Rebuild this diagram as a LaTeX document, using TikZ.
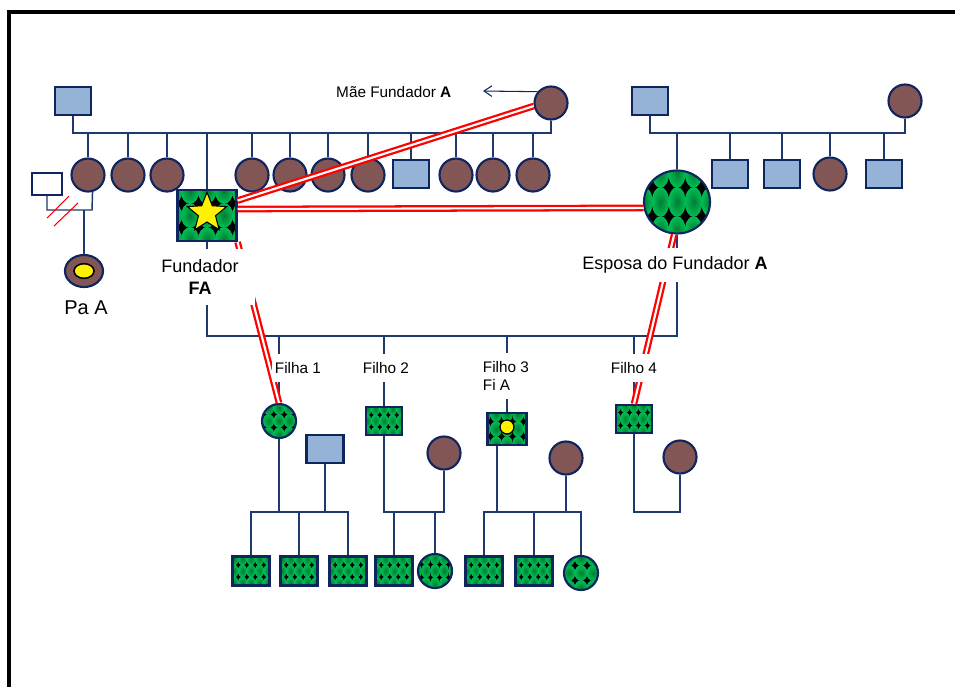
\documentclass[tikz,border=0pt]{standalone}
\usepackage{fontspec}
\setmainfont{Liberation Sans}
\usepackage{tikz}
\usetikzlibrary{arrows.meta,calc,shapes.geometric}

\definecolor{navyc}{RGB}{16,37,94}
\definecolor{linec}{RGB}{31,56,110}
\definecolor{brownc}{RGB}{131,86,86}
\definecolor{bluec}{RGB}{149,179,215}
\definecolor{pinkc}{RGB}{222,150,150}
\definecolor{gdark}{RGB}{0,125,50}
\definecolor{glight}{RGB}{0,190,85}

\tikzset{
  male/.style={draw=navyc, fill=bluec, line width=1.6pt, minimum width=27pt, minimum height=21pt, inner sep=0pt},
  female/.style={circle, draw=navyc, fill=brownc, line width=1.6pt, minimum size=24.75pt, inner sep=0pt},
  greenpat/.style 2 args={draw=navyc, line width=1.6pt, inner sep=0pt,
    path picture={
      \fill[black] (path picture bounding box.south west) rectangle (path picture bounding box.north east);
      \begin{scope}[shift={(path picture bounding box.center)}]
        \foreach \i in {-4,...,4}
          \foreach \j in {-3,...,3}
            \shade[inner color=gdark, outer color=glight] (\i*#1,\j*#2) ellipse [x radius=#1/2+0.4, y radius=#2/2+0.4];
      \end{scope}}},
  link/.style={draw=linec, line width=1.1pt},
  consang/.style={draw=red, double=white, line width=1.7pt, double distance=1.6pt},
  lbl/.style={fill=white, inner xsep=2pt, inner ysep=6pt, align=left, font=\fontsize{11.5}{13.8}\selectfont},
  biglbl/.style={fill=white, align=center, font=\fontsize{13.5}{16}\selectfont}
}

\begin{document}
\begin{tikzpicture}[x=0.75pt,y=0.75pt,yscale=-1,xscale=1]
  \useasboundingbox (0,0) rectangle (955,686);
  % frame
  \draw[line width=3pt] (8.5,700) -- (8.5,12) -- (970,12);

  % founder's parents and sibship
  \node[male] (fatherFA) at (73,101) {};
  \node[female] (mothFA) at (551,103) {};
  \node[female] (sa1) at (88,175) {};
  \node[female] (sa2) at (128,175) {};
  \node[female] (sa3) at (167,175) {};
  \node[female] (sa4) at (252,175) {};
  \node[female] (sa5) at (290,175) {};
  \node[female, left color=brownc, middle color=pinkc, right color=brownc] (sa6) at (328,175) {};
  \node[female] (sa7) at (368,175) {};
  \node[male] (sa8) at (411,174) {};
  \node[female] (sa9) at (456,175) {};
  \node[female] (sa10) at (493,175) {};
  \node[female] (sa11) at (533,175) {};
  \node[greenpat={17}{24}, minimum width=44.25pt, minimum height=38.25pt] (founder) at (207,215.5) {};
  \node[star, star points=5, star point ratio=2.3, fill=yellow, draw=black, line width=0.8pt, minimum size=31pt, inner sep=0pt] (fstar) at (207,213) {};

  % ex partner of sa1 and child Pa A
  \node[draw=navyc, fill=white, line width=1.6pt, minimum width=22.5pt, minimum height=16.5pt] (exPA) at (47,184) {};
  \node[ellipse, draw=navyc, fill=brownc, line width=1.6pt, minimum width=28.5pt, minimum height=24pt, inner sep=0pt] (paA) at (84,271) {};
  \node[ellipse, draw=black, fill=yellow, line width=1.2pt, minimum width=15pt, minimum height=11pt, inner sep=0pt] (paAdot) at (84,271) {};
  \coordinate (paJ) at (92,210);
  \draw[link] (exPA.south) |- (paJ) -- (sa1.285);
  \draw[link] (paA.north |- paJ) -- (paA.north);
  \draw[red, line width=0.8pt] (47,218) -- (69,196);
  \draw[red, line width=0.8pt] (54,226) -- (78,203);

  % spouse's parents and sibship
  \node[male] (fatherEsp) at (650,101) {};
  \node[female] (mothEsp) at (905,101) {};
  \node[ellipse, greenpat={16.5}{29}, minimum width=49.5pt, minimum height=47.25pt] (spouse) at (677,202) {};
  \node[male] (sb1) at (730,174) {};
  \node[male] (sb2) at (782,174) {};
  \node[female] (sb3) at (830,174) {};
  \node[male] (sb4) at (884,174) {};

  % sibship lines
  \coordinate (sibA) at (300,133);
  \coordinate (sibB) at (780,133);
  \draw[link] (fatherFA.south) |- (sibA) -| (mothFA.south);
  \foreach \n in {sa1,sa2,sa3,sa4,sa5,sa6,sa7,sa8,sa9,sa10,sa11,founder}
    \draw[link] (\n.north) -- (\n.north |- sibA);
  \draw[link] (fatherEsp.south) |- (sibB) -| (mothEsp.south);
  \foreach \n in {spouse,sb1,sb2,sb3,sb4}
    \draw[link] (\n.north) -- (\n.north |- sibB);

  % children of the founder
  \node[circle, greenpat={10.5}{13}, minimum size=25.5pt] (filha1) at (279,421) {};
  \node[greenpat={8.5}{12}, minimum width=27pt, minimum height=21pt] (filho2) at (384,421) {};
  \node[greenpat={11}{15}, minimum width=29.25pt, minimum height=24pt] (filho3) at (507,429) {};
  \node[circle, draw=black, fill=yellow, line width=1pt, minimum size=10.5pt, inner sep=0pt] (f3dot) at (507,427) {};
  \node[greenpat={9}{13}, minimum width=27pt, minimum height=21pt] (filho4) at (634,419) {};
  \coordinate (kidsL) at (450,336);
  \draw[link] (founder.south) |- (kidsL) -| (spouse.south);
  \foreach \n in {filha1,filho2,filho3,filho4}
    \draw[link] (\n.north) -- (\n.north |- kidsL);

  % partners
  \node[male, minimum width=27.75pt] (hF1) at (325,449) {};
  \node[female] (wF2) at (444,453) {};
  \node[female] (wF3) at (566,458) {};
  \node[female] (wF4) at (680,457) {};

  % grandchildren
  \node[greenpat={8.5}{12}, minimum width=27.75pt, minimum height=21.75pt] (gc1) at (251,571) {};
  \node[greenpat={8.5}{12}, minimum width=27.75pt, minimum height=21.75pt] (gc2) at (299,571) {};
  \node[greenpat={8.5}{12}, minimum width=27.75pt, minimum height=21.75pt] (gc3) at (348,571) {};
  \node[greenpat={8.5}{12}, minimum width=27.75pt, minimum height=21.75pt] (gc4) at (394,571) {};
  \node[circle, greenpat={9}{13}, minimum size=25.5pt] (gc5) at (435,571) {};
  \node[greenpat={8.5}{12}, minimum width=27.75pt, minimum height=21.75pt] (gc6) at (484,571) {};
  \node[greenpat={8.5}{12}, minimum width=27.75pt, minimum height=21.75pt] (gc7) at (534,571) {};
  \node[circle, greenpat={12}{15}, minimum size=25.5pt] (gc8) at (581,573) {};

  \coordinate (gJ1) at (300,512);
  \coordinate (gJ2) at (415,512);
  \coordinate (gJ3) at (535,512);
  \coordinate (gJ4) at (660,512);
  \draw[link] (filha1.south) -- (filha1.south |- gJ1);
  \draw[link] (hF1.south) -- (hF1.south |- gJ1);
  \draw[link] (gc1.north) |- (gJ1) -| (gc3.north);
  \draw[link] (gc2.north) -- (gc2.north |- gJ1);
  \draw[link] (filho2.south) |- (gJ2) -| (wF2.south);
  \draw[link] (gc4.north) -- (gc4.north |- gJ2);
  \draw[link] (gc5.north) -- (gc5.north |- gJ2);
  \draw[link] ([xshift=-7.5pt]filho3.south) |- (gJ3) -| (wF3.south);
  \draw[link] (gc6.north) |- (gJ3) -| (gc8.north);
  \draw[link] (gc7.north) -- (gc7.north |- gJ3);
  \draw[link] (filho4.south) |- (gJ4) -| (wF4.south);

  % consanguinity
  \draw[consang] (mothFA.190) -- (founder.26);
  \draw[consang] (founder.12) -- (spouse.190);
  \draw[consang] (founder.south east) -- (filha1.north);
  \draw[consang] (spouse.265) -- (filho4.north);

  % labels
  \coordinate (maeTip) at (483,91);
  \node[anchor=east, font=\fontsize{11.5}{13.8}\selectfont] (maeLbl) at (456,92) {Mãe Fundador \textbf{A}};
  \draw[draw=navyc, line width=0.8pt, -{Straight Barb[length=6pt,width=8pt]}] (mothFA.140) -- (maeTip);
  \node[biglbl, minimum width=82pt, minimum height=42pt] (lblFA) at (200,277) {Fundador\\\textbf{FA}};
  \node[biglbl, minimum height=25pt] (lblEsp) at (675,265) {Esposa do Fundador \textbf{A}};
  \node[font=\fontsize{15}{18}\selectfont] (lblPa) at (86,308) {Pa A};
  \node[lbl, anchor=west] (lblF1) at (272,368) {Filha 1};
  \node[lbl, anchor=west] (lblF2) at (360,368) {Filho 2};
  \node[lbl, anchor=north west] (lblF3) at (480,353) {Filho 3\\Fi A};
  \node[lbl, anchor=west] (lblF4) at (608,368) {Filho 4};
\end{tikzpicture}
\end{document}
